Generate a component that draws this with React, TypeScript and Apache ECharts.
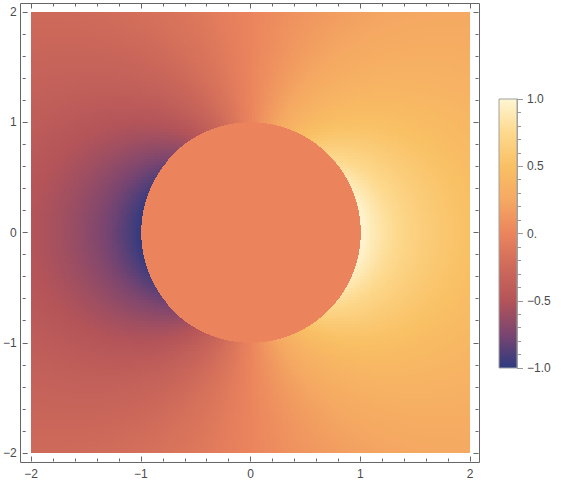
import React, { useEffect, useRef } from "react";
import * as echarts from "echarts";

// Plotted field: density plot of x/(x^2+y^2) outside the unit disk, 0 inside it
const X_RANGE = [-2, 2];
const Y_RANGE = [-2, 2];
const DISK_RADIUS = 1;
const SAMPLES = 147;
const EDGE_SUBDIV = 3;

const axisTicks = [-2, -1, 0, 1, 2];
const colorbarTicks = [-1, -0.5, 0, 0.5, 1];
const colorbarLabels = ["−1.0", "−0.5", "0.", "0.5", "1.0"];
const colorStops = [
  "#2E3A80",
  "#7A4570",
  "#B45459",
  "#CE6A5A",
  "#EB845D",
  "#F5A962",
  "#F9C064",
  "#FDD98E",
  "#FFF6D3",
];

function field(x: number, y: number): number {
  const r2 = x * x + y * y;
  if (r2 < DISK_RADIUS * DISK_RADIUS) return 0;
  return x / r2;
}

const stepX = (X_RANGE[1] - X_RANGE[0]) / SAMPLES;
const stepY = (Y_RANGE[1] - Y_RANGE[0]) / SAMPLES;
const cells: number[][] = [];
const inside = (x: number, y: number) => x * x + y * y < DISK_RADIUS * DISK_RADIUS;
for (let i = 0; i < SAMPLES; i++) {
  for (let j = 0; j < SAMPLES; j++) {
    const xa = X_RANGE[0] + i * stepX;
    const ya = Y_RANGE[0] + j * stepY;
    const c = [
      inside(xa, ya),
      inside(xa + stepX, ya),
      inside(xa, ya + stepY),
      inside(xa + stepX, ya + stepY),
    ];
    const straddles = c.some((v) => v) && c.some((v) => !v);
    if (straddles) {
      const sx = stepX / EDGE_SUBDIV;
      const sy = stepY / EDGE_SUBDIV;
      for (let a = 0; a < EDGE_SUBDIV; a++) {
        for (let b = 0; b < EDGE_SUBDIV; b++) {
          const x = xa + (a + 0.5) * sx;
          const y = ya + (b + 0.5) * sy;
          cells.push([x, y, field(x, y), sx / 2]);
        }
      }
    } else {
      const x = xa + 0.5 * stepX;
      const y = ya + 0.5 * stepY;
      cells.push([x, y, field(x, y), stepX / 2]);
    }
  }
}

const fmtNum = (v: number) => (v < 0 ? "−" + Math.abs(v) : String(v));
const LABEL_COLOR = "#4a4a4a";
const LINE_COLOR = "#666";
const FONT = "Liberation Sans, Arial, sans-serif";

function mainAxis(kind: "x" | "y", position: string, labels: boolean) {
  return {
    type: "value",
    gridIndex: 0,
    position,
    min: axisTicks[0],
    max: axisTicks[axisTicks.length - 1],
    interval: 1,
    offset: 8.5,
    axisLine: { show: false, onZero: false },
    axisTick: { show: true, inside: true, length: 5, lineStyle: { color: LINE_COLOR, width: 1 } },
    minorTick: { show: true, splitNumber: 5, length: 3, lineStyle: { color: LINE_COLOR, width: 1 } },
    splitLine: { show: false },
    minorSplitLine: { show: false },
    axisLabel: {
      show: labels,
      color: LABEL_COLOR,
      fontSize: 12,
      fontFamily: FONT,
      margin: 6,
      formatter: (v: number) => fmtNum(v),
    },
  };
}

export default function App() {
  const ref = useRef<HTMLDivElement>(null);
  useEffect(() => {
    if (!ref.current) return;
    const chart = echarts.init(ref.current, null, { renderer: "svg" });
    const gradStops = colorStops
      .slice()
      .reverse()
      .map((c, i) => ({ offset: i / (colorStops.length - 1), color: c }));
    chart.setOption({
      animation: false,
      backgroundColor: "#ffffff",
      grid: [
        { left: 29, top: 12, width: 441, height: 441, show: false },
        {
          left: 499,
          top: 99,
          width: 18,
          height: 269,
          show: true,
          borderColor: "#a0a0a0",
          borderWidth: 1,
          backgroundColor: {
            type: "linear",
            x: 0,
            y: 0,
            x2: 0,
            y2: 1,
            colorStops: gradStops,
          },
        },
      ],
      xAxis: [
        mainAxis("x", "bottom", true),
        mainAxis("x", "top", false),
        { type: "value", gridIndex: 1, min: 0, max: 1, show: false },
      ],
      yAxis: [
        mainAxis("y", "left", true),
        mainAxis("y", "right", false),
        {
          type: "value",
          gridIndex: 1,
          position: "right",
          min: colorbarTicks[0],
          max: colorbarTicks[colorbarTicks.length - 1],
          interval: 0.5,
          axisLine: { show: true, onZero: false, lineStyle: { color: "#a0a0a0" } },
          axisTick: { show: true, inside: false, length: 6, lineStyle: { color: "#999" } },
          minorTick: { show: true, splitNumber: 5, length: 4, lineStyle: { color: "#999" } },
          splitLine: { show: false },
          axisLabel: {
            color: LABEL_COLOR,
            fontSize: 12,
            fontFamily: FONT,
            margin: 10,
            formatter: (v: number) => {
              const k = colorbarTicks.findIndex((t) => Math.abs(t - v) < 1e-9);
              return k >= 0 ? colorbarLabels[k] : "";
            },
          },
        },
      ],
      visualMap: {
        type: "continuous",
        show: false,
        min: -1,
        max: 1,
        dimension: 2,
        seriesIndex: 0,
        inRange: { color: colorStops },
      },
      graphic: [
        {
          type: "rect",
          shape: { x: 20.5, y: 3.5, width: 459, height: 459 },
          style: { fill: "none", stroke: LINE_COLOR, lineWidth: 1 },
          silent: true,
          z: 100,
        },
      ],
      series: [
        {
          type: "custom",
          xAxisIndex: 0,
          yAxisIndex: 0,
          progressive: 0,
          encode: { x: 0, y: 1 },
          data: cells,
          renderItem: (params: any, api: any) => {
            const x = api.value(0);
            const y = api.value(1);
            const h = api.value(3);
            const p0 = api.coord([x - h, y + h]);
            const p1 = api.coord([x + h, y - h]);
            const x0 = Math.round(p0[0]);
            const y0 = Math.round(p0[1]);
            const x1 = Math.round(p1[0]);
            const y1 = Math.round(p1[1]);
            return {
              type: "rect",
              shape: { x: x0, y: y0, width: x1 - x0, height: y1 - y0 },
              style: { fill: api.visual("color"), stroke: null },
            };
          },
        },
      ],
    });
    return () => chart.dispose();
  }, []);
  return (
    <div
      ref={ref}
      style={{ position: "fixed", left: 0, top: 0, width: 561, height: 483 }}
    />
  );
}
